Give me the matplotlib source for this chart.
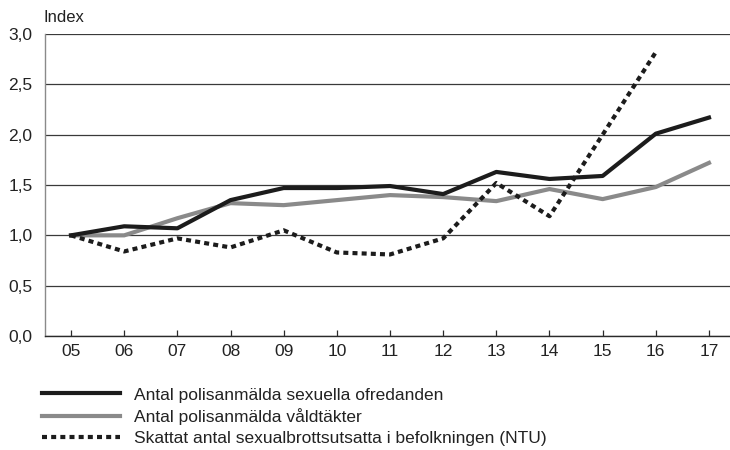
import matplotlib.pyplot as plt
from matplotlib.ticker import FuncFormatter

plt.rcParams['font.family'] = ['Liberation Sans', 'DejaVu Sans']

# data (index, 2005 = 1)
years = ["05", "06", "07", "08", "09", "10", "11", "12", "13", "14", "15", "16", "17"]
ofredanden = [1.00, 1.09, 1.07, 1.35, 1.47, 1.47, 1.49, 1.41, 1.63, 1.56, 1.59, 2.01, 2.17]
valdtakter = [1.00, 1.00, 1.17, 1.32, 1.30, 1.35, 1.40, 1.38, 1.34, 1.46, 1.36, 1.48, 1.72]
ntu = [1.00, 0.84, 0.97, 0.88, 1.05, 0.83, 0.81, 0.97, 1.52, 1.19, 2.00, 2.82]

labels = ["Antal polisanmälda sexuella ofredanden",
          "Antal polisanmälda våldtäkter",
          "Skattat antal sexualbrottsutsatta i befolkningen (NTU)"]

fig = plt.figure(figsize=(7.3, 4.5), dpi=100)
ax = fig.add_axes([0.0616, 0.2533, 0.938, 0.6711])

x = list(range(len(years)))
ax.plot(x, ofredanden, color="#1c1c1c", lw=3.0, label=labels[0], zorder=4)
ax.plot(x, valdtakter, color="#8a8a8a", lw=3.0, label=labels[1], zorder=3)
ax.plot(x[:len(ntu)], ntu, color="#1c1c1c", lw=3.0, linestyle=(0, (1.2, 1.0)),
        label=labels[2], zorder=5)

ax.set_xlim(-0.49, 12.39)
ax.set_ylim(0, 3.0)
ax.set_yticks([0, 0.5, 1.0, 1.5, 2.0, 2.5, 3.0])
ax.yaxis.set_major_formatter(FuncFormatter(lambda v, p: f"{v:.1f}".replace(".", ",")))
ax.set_xticks(x)
ax.set_xticklabels(years)

ax.grid(axis="y", color="#3a3a3a", lw=0.9, zorder=1)
ax.set_axisbelow(True)
for s in ["top", "right"]:
    ax.spines[s].set_visible(False)
ax.spines["left"].set_color("#8a8a8a")
ax.spines["left"].set_linewidth(1.0)
ax.spines["bottom"].set_color("#2a2a2a")
ax.spines["bottom"].set_linewidth(1.0)

ax.tick_params(axis="x", direction="in", length=4.5, width=0.9, color="#2a2a2a",
               labelsize=12.5, pad=6, labelcolor="#222222")
ax.tick_params(axis="y", length=0, labelsize=12.5, pad=9, labelcolor="#222222")

fig.text(0.059, 0.962, "Index", fontsize=12, color="#222222", va="center")

leg = ax.legend(loc="upper left", bbox_to_anchor=(-0.004, -0.17), frameon=False,
                fontsize=12.5, handlelength=4.5, handletextpad=0.8, labelspacing=0.32,
                borderaxespad=0, borderpad=0)
for t in leg.get_texts():
    t.set_color("#222222")

fig.savefig("out.png", dpi=100)
